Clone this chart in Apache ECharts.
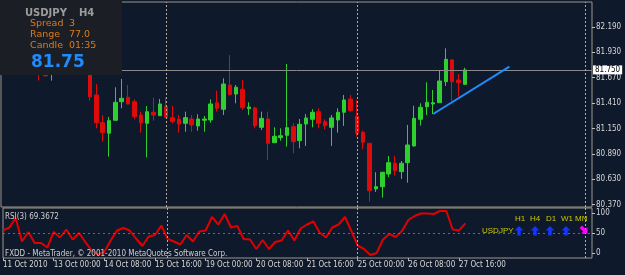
<!DOCTYPE html>
<html>
<head>
<meta charset="utf-8">
<title>USDJPY H4</title>
<script src="https://cdn.jsdelivr.net/npm/echarts@6/dist/echarts.min.js"></script>
<style>
html, body { margin: 0; padding: 0; background: #0f192c; }
#main { width: 625px; height: 275px; }
</style>
</head>
<body>
<div id="main"></div>
<script>
// USDJPY H4 bars, 11 Oct 2010 16:00 .. 27 Oct 2010 20:00
var openP = [81.95, 81.92, 81.87, 81.90, 81.96, 81.93, 81.80, 81.76,
	81.71, 81.80, 81.86, 81.84, 81.88, 81.79, 81.82, 81.493, 81.209, 81.101,
	81.234, 81.424, 81.469, 81.424, 81.288, 81.203, 81.316, 81.281, 81.373, 81.261,
	81.244, 81.203, 81.247, 81.176, 81.234, 81.237, 81.414, 81.347, 81.595, 81.503,
	81.551, 81.353, 81.360, 81.162, 81.247, 81.005, 81.056, 81.080, 81.168, 81.025,
	81.196, 81.244, 81.322, 81.220, 81.162, 81.237, 81.316, 81.452, 81.278, 81.111,
	80.998, 80.531, 80.554, 80.684, 80.794, 80.708, 80.800, 80.971, 81.244, 81.373,
	81.401, 81.414, 81.629, 81.851, 81.646, 81.602];
var closeP = [81.92, 81.87, 81.90, 81.96, 81.93, 81.80, 81.72, 81.69,
	81.80, 81.86, 81.84, 81.88, 81.79, 81.82, 81.475, 81.209, 81.107, 81.230,
	81.418, 81.459, 81.401, 81.271, 81.209, 81.322, 81.288, 81.401, 81.265, 81.220,
	81.196, 81.261, 81.186, 81.247, 81.247, 81.401, 81.357, 81.605, 81.496, 81.572,
	81.363, 81.370, 81.179, 81.254, 80.998, 81.070, 81.076, 81.158, 81.015, 81.193,
	81.258, 81.316, 81.203, 81.179, 81.258, 81.316, 81.442, 81.332, 81.101, 81.009,
	80.513, 80.554, 80.702, 80.800, 80.718, 80.794, 80.981, 81.254, 81.367, 81.418,
	81.414, 81.636, 81.858, 81.629, 81.619, 81.750];
var lowP = [81.88, 81.84, 81.82, 81.86, 81.90, 81.78, 81.64, 81.68,
	81.64, 81.74, 81.80, 81.78, 81.76, 81.72, 81.435, 81.152, 81.015, 80.861,
	81.230, 81.357, 81.396, 81.244, 81.107, 80.855, 81.230, 81.278, 81.254, 81.203,
	81.107, 81.117, 81.117, 81.127, 81.117, 81.209, 81.322, 81.288, 81.488, 81.408,
	81.339, 81.288, 81.152, 81.134, 80.828, 81.002, 81.025, 80.964, 80.896, 80.947,
	80.971, 81.162, 81.152, 81.142, 80.971, 81.107, 81.176, 81.322, 81.066, 80.937,
	80.401, 80.500, 80.442, 80.651, 80.667, 80.633, 80.595, 80.966, 81.179, 81.288,
	81.298, 81.411, 81.585, 81.432, 81.475, 81.600];
var highP = [82.02, 81.98, 81.95, 82.00, 82.05, 81.97, 81.86, 81.80,
	81.84, 81.90, 81.94, 81.92, 81.93, 81.86, 81.86, 81.605, 81.288, 81.268,
	81.572, 81.657, 81.595, 81.449, 81.322, 81.380, 81.465, 81.452, 81.465, 81.380,
	81.288, 81.322, 81.288, 81.295, 81.278, 81.449, 81.537, 81.664, 81.902, 81.595,
	81.646, 81.418, 81.373, 81.322, 81.322, 81.162, 81.152, 81.810, 81.203, 81.247,
	81.298, 81.347, 81.357, 81.244, 81.288, 81.357, 81.493, 81.493, 81.442, 81.128,
	81.002, 80.702, 80.705, 80.869, 80.869, 80.817, 81.186, 81.383, 81.408, 81.623,
	81.544, 81.749, 81.971, 81.861, 81.708, 81.772];
var rsi = [55, 61, 80, 33, 52, 30, 30, 21,
	52, 41, 57, 37, 50, 32, 15, 7, 12, 35,
	55, 60, 55, 39, 24, 43, 46, 65, 38, 33,
	27, 46, 33, 53, 55, 82, 67, 88, 61, 64,
	38, 37, 18, 36, 18, 32, 35, 55, 35, 59,
	67, 73, 51, 41, 61, 67, 82, 54, 25, 18,
	6, 10, 37, 48, 42, 54, 76, 84, 89, 89,
	88, 94, 94, 57, 55, 69.3672];

var priceTicks = [80.37, 80.63, 80.89, 81.15, 81.41, 81.67, 81.93, 82.19];
var rsiTickPos = [10, 50, 90];
var rsiTickText = ['0', '50', '100'];
var timeLabels = ['11 Oct 2010', '13 Oct 00:00', '14 Oct 08:00', '15 Oct 16:00', '19 Oct 00:00',
	'20 Oct 08:00', '21 Oct 16:00', '25 Oct 00:00', '26 Oct 08:00', '27 Oct 16:00'];
var lastPrice = 81.75;
var trendLine = [[68, 81.298], [80, 81.783]]; // [bar index, price]
var separators = [26, 56, 92];
var futureBars = 20;

var green = '#2fcf2f', red = '#dc0c0c';
var txtFont = "'Liberation Sans Narrow', 'DejaVu Sans Condensed', 'Liberation Sans', sans-serif";

// H4 bar times, weekdays only
var months = ['Jan','Feb','Mar','Apr','May','Jun','Jul','Aug','Sep','Oct','Nov','Dec'];
var times = [];
var t = Date.UTC(2010, 9, 11, 16);
while (times.length < openP.length + futureBars) {
	var d = new Date(t);
	var wd = d.getUTCDay();
	if (wd >= 1 && wd <= 5) {
		var h = d.getUTCHours();
		times.push(d.getUTCDate() + ' ' + months[d.getUTCMonth()] + ' ' + (h < 10 ? '0' : '') + h + ':00');
	}
	t += 4 * 3600 * 1000;
}

var candles = openP.map(function (o, i) { return [o, closeP[i], lowP[i], highP[i]]; });

function labelAt(idx) { return idx % 8 === 0 && idx / 8 < timeLabels.length; }

var sepStyle = { color: '#b3ab96', width: 1, type: [2, 2] };
var candleMarks = [
	{ yAxis: lastPrice, lineStyle: { color: '#8a8a8a', width: 1, type: 'solid' },
	  label: { show: true, position: 'end', formatter: lastPrice.toFixed(3), color: '#000',
	           backgroundColor: '#fff', padding: [1, 2, 0, 2], fontSize: 8, distance: 1, fontFamily: txtFont } },
	[{ coord: [times[trendLine[0][0]], trendLine[0][1]], lineStyle: { color: '#1e8cff', width: 2, type: 'solid' } },
	 { coord: [times[trendLine[1][0]], trendLine[1][1]] }]
];
var rsiMarks = [
	{ yAxis: 50, lineStyle: { color: '#2f7c9c', width: 1, type: [2, 3] } }
];
separators.forEach(function (i) {
	candleMarks.push({ xAxis: times[i], lineStyle: sepStyle });
	rsiMarks.push({ xAxis: times[i], lineStyle: sepStyle });
});

// trend-direction arrows of the signal panel
var arrowPts = [[0, -5], [4.5, -0.5], [1.7, -0.5], [1.7, 4.5], [-1.7, 4.5], [-1.7, -0.5], [-4.5, -0.5]];
function arrow(x, y, rot, col) {
	return { type: 'polygon', z: 101, x: x, y: y, rotation: rot, shape: { points: arrowPts }, style: { fill: col } };
}
function txt(x, y, s, col, font) {
	return { type: 'text', z: 101, x: x, y: y, style: { text: s, fill: col, font: font, verticalAlign: 'middle' } };
}
var boxFont = "9.5px 'DejaVu Sans'";
var sigFont = "8px 'Liberation Sans'";

var myChart = echarts.init(document.getElementById('main'));
var option = {
	animation: false,
	backgroundColor: '#0f192c',
	grid: [
		{ left: 1, right: 33, top: 2, height: 205, show: true, borderColor: '#9c978a', borderWidth: 1 },
		{ left: 1, right: 33, top: 208, height: 50, show: true, borderColor: '#9c978a', borderWidth: 1 }
	],
	xAxis: [
		{ type: 'category', gridIndex: 0, data: times, boundaryGap: false,
		  axisLine: { show: false }, axisTick: { show: false }, axisLabel: { show: false }, splitLine: { show: false } },
		{ type: 'category', gridIndex: 1, data: times, boundaryGap: false,
		  axisLine: { show: false },
		  axisTick: { show: true, length: 3, interval: labelAt, lineStyle: { color: '#b0b0b0' } },
		  axisLabel: { interval: labelAt, align: 'left', margin: 3, color: '#d6d6d6', fontSize: 8, fontFamily: txtFont,
		               formatter: function (v, idx) { return timeLabels[idx / 8] || ''; } },
		  splitLine: { show: false } }
	],
	yAxis: [
		{ type: 'value', gridIndex: 0, position: 'right', min: 80.346, max: 82.445, scale: true,
		  splitLine: { show: false }, axisLine: { show: false },
		  axisTick: { show: true, length: 3, customValues: priceTicks, lineStyle: { color: '#c0c0c0' } },
		  axisLabel: { customValues: priceTicks, margin: 4, color: '#d6d6d6', fontSize: 8, fontFamily: txtFont,
		               formatter: function (v) { return v.toFixed(3); } } },
		{ type: 'value', gridIndex: 1, position: 'right', min: 0, max: 100,
		  splitLine: { show: false }, axisLine: { show: false },
		  axisTick: { show: true, length: 3, customValues: rsiTickPos, lineStyle: { color: '#c0c0c0' } },
		  axisLabel: { customValues: rsiTickPos, margin: 4, color: '#d6d6d6', fontSize: 8, fontFamily: txtFont,
		               formatter: function (v) { return rsiTickText[rsiTickPos.indexOf(v)]; } } }
	],
	series: [
		{
			name: 'USDJPY', type: 'candlestick', xAxisIndex: 0, yAxisIndex: 0,
			data: candles, barWidth: 4,
			itemStyle: { color: green, color0: red, borderColor: green, borderColor0: red, borderWidth: 1 },
			markLine: { silent: true, symbol: ['none', 'none'], label: { show: false }, data: candleMarks }
		},
		{
			name: 'RSI(3)', type: 'line', xAxisIndex: 1, yAxisIndex: 1,
			data: rsi, symbol: 'none', lineStyle: { color: '#e00000', width: 2 },
			markLine: { silent: true, symbol: ['none', 'none'], label: { show: false }, data: rsiMarks }
		}
	],
	graphic: [
		{ type: 'rect', z: 100, shape: { x: 0, y: 0, width: 122, height: 75 }, style: { fill: '#1b1e25' } },
		txt(25, 13, 'USDJPY', '#9c9c9c', "bold 10px 'DejaVu Sans'"),
		txt(79, 13, 'H4', '#9c9c9c', "bold 10px 'DejaVu Sans'"),
		txt(30, 24, 'Spread', '#dc7c1c', boxFont),
		txt(69, 24, '3', '#dc7c1c', boxFont),
		txt(30, 35, 'Range', '#dc7c1c', boxFont),
		txt(69, 35, '77.0', '#dc7c1c', boxFont),
		txt(30, 46, 'Candle', '#dc7c1c', boxFont),
		txt(69, 46, '01:35', '#dc7c1c', boxFont),
		txt(31, 63, closeP[closeP.length - 1].toFixed(2), '#1e8cff', "bold 17px 'DejaVu Sans'"),
		txt(5, 217, 'RSI(3) ' + rsi[rsi.length - 1].toFixed(4), '#cfcfcf', '8px ' + txtFont),
		txt(5, 254, 'FXDD - MetaTrader, \u00a9 2001-2010 MetaQuotes Software Corp.', '#cfcfcf', '8px ' + txtFont),
		txt(482, 231, 'USDJPY', '#c8c800', sigFont),
		txt(515, 219, 'H1', '#c8c800', sigFont),
		txt(530, 219, 'H4', '#c8c800', sigFont),
		txt(546, 219, 'D1', '#c8c800', sigFont),
		txt(561, 219, 'W1', '#c8c800', sigFont),
		txt(575, 219, 'MN', '#c8c800', sigFont),
		arrow(519, 231, 0, '#1434ff'),
		arrow(535, 231, 0, '#1434ff'),
		arrow(550, 231, 0, '#1434ff'),
		arrow(566, 231, 0, '#1434ff'),
		arrow(584, 230, -3 * Math.PI / 4, '#ff00ff')
	]
};
myChart.setOption(option);
</script>
</body>
</html>
